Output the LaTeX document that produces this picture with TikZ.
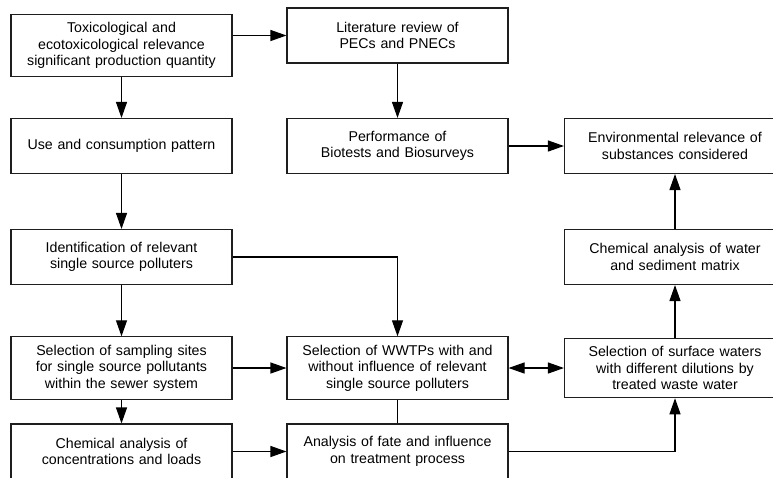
\documentclass[tikz,border=0pt]{standalone}
\usepackage{fontspec}
\usepackage{tikz}
\usepackage{xcolor}
\setmainfont{Liberation Sans}
\usetikzlibrary{arrows.meta,positioning,calc}
\definecolor{BoxLine}{RGB}{30,30,30}

\begin{document}
\begin{tikzpicture}[x=1pt,y=-1pt,
  box/.style={draw=BoxLine, line width=1.1pt, minimum width=221pt,
      minimum height=55pt, text width=205pt, inner sep=8pt,
      align=center, font=\fontsize{14.2}{16.5}\selectfont},
  tip/.tip={Triangle[length=16pt,width=11pt]},
  flow/.style={draw=black, line width=1.1pt, -tip},
  link/.style={draw=black, line width=1.1pt}]
\useasboundingbox (0,0) rectangle (773,477);
\clip (0,0) rectangle (773,477);

% left column
\node[box] (tox) at (121.5,45.5) {Toxicological and\\
ecotoxicological relevance\\ significant production quantity};
\node[box] (use) at (121.5,146) {Use and consumption pattern};
\node[box] (ident) at (121.5,257) {Identification of relevant\\
single source polluters};
\node[box] (samp) at (121.5,368) {Selection of sampling sites\\
for single source pollutants\\ within the sewer system};
\node[box] (chemload) at (121.5,451.5) {Chemical analysis of\\
concentrations and loads};

% middle column
\node[box] (lit) at (397.5,35.5) {Literature review of\\ PECs and PNECs};
\node[box] (perf) at (397.5,146) {Performance of\\
Biotests and Biosurveys};
\node[box] (wwtp) at (397.5,368) {Selection of WWTPs with and\\
without influence of relevant\\ single source polluters};
\node[box] (fate) at (397.5,451.5) {Analysis of fate and influence\\
on treatment process};

% right column
\node[box] (env) at (675,146) {Environmental relevance of\\
substances considered};
\node[box] (water) at (675,257) {Chemical analysis of water\\
and sediment matrix};
\node[box] (surf) at (675,368) {Selection of surface waters\\
with different dilutions by\\ treated waste water};

% connectors
\draw[flow] (lit.west -| tox.east) -- (lit.west);
\draw[flow] (tox) -- (use);
\draw[flow] (use) -- (ident);
\draw[flow] (ident) -- (samp);
\draw[flow] (samp) -- (chemload);
\draw[flow] (lit) -- (perf);
\draw[flow] (perf) -- (env);
\draw[flow] (ident.east) -| (wwtp.north);
\draw[flow] (samp) -- (wwtp);
\draw[flow] (chemload) -- (fate);
\draw[link] (wwtp) -- (fate);
\draw[flow, tip-tip] (wwtp) -- (surf);
\draw[flow] (surf) -- (water);
\draw[flow] (water) -- (env);
\draw[flow] (fate.east) -| (surf.south);
\end{tikzpicture}
\end{document}
